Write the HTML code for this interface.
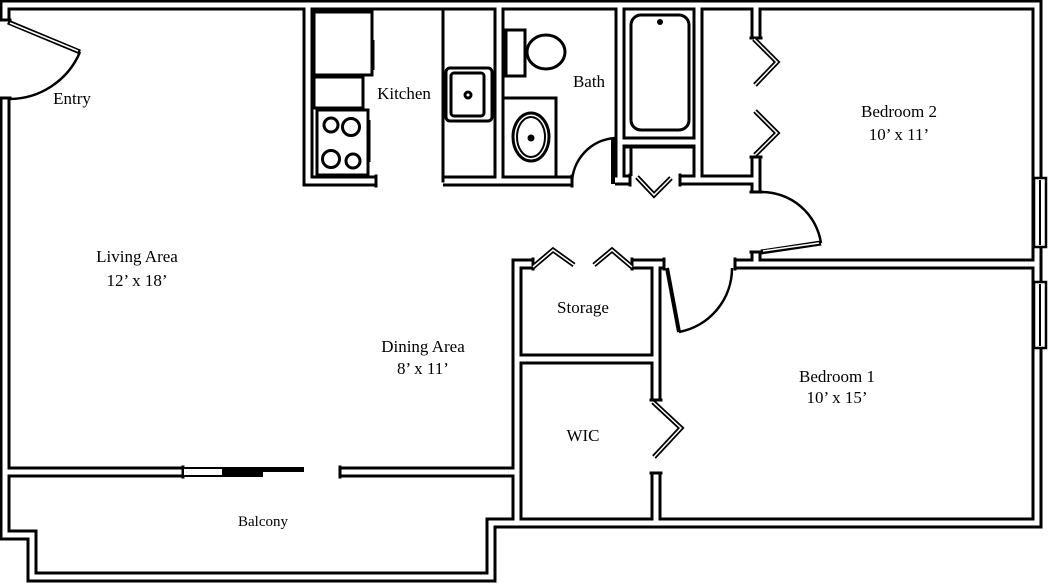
<!DOCTYPE html>
<html><head><meta charset="utf-8"><style>
html,body{margin:0;padding:0;background:#fff;}
svg{display:block;}
text{font-family:"Liberation Serif",serif;font-size:17px;fill:#000;text-anchor:middle;}
</style></head><body>
<svg width="1049" height="583" viewBox="0 0 1049 583" xmlns="http://www.w3.org/2000/svg">
<rect width="1049" height="583" fill="#fff"/>
<g fill="none" stroke-linejoin="miter" stroke-linecap="butt">
<g stroke="#000" stroke-width="11">
<path d="M5,20 V5 H1037 V523 H491 V577 H32 V535 H5 V98"/>
<path d="M5,472 H183 M340,472 H517 V523"/>
<path d="M517,472 V264 H533 M632,264 H664 M656,264 V400 M656,473 V523 M517,359 H656"/>
<path d="M735,264 H1037 M756,5 V38 M756,157 V192 M756,252 V264"/>
<path d="M680,180 H756 M615,180 H630 M698,5 V180 M620,142 H698 M620,5 V180"/>
<path d="M308,5 V181 H376 M499,5 V181 M443,181 H572"/>
</g>
<g stroke="#fff" stroke-width="5">
<path d="M5,20 V5 H1037 V523 H491 V577 H32 V535 H5 V98"/>
<path d="M5,472 H183 M340,472 H517 V523"/>
<path d="M517,472 V264 H533 M632,264 H664 M656,264 V400 M656,473 V523 M517,359 H656"/>
<path d="M735,264 H1037 M756,5 V38 M756,157 V192 M756,252 V264"/>
<path d="M680,180 H756 M615,180 H630 M698,5 V180 M620,142 H698 M620,5 V180"/>
<path d="M308,5 V181 H376 M499,5 V181 M443,181 H572"/>
</g>
<g stroke="#000" stroke-width="3" stroke-linecap="square">
<path d="M0,20 H10 M0,98 H10 M183,467 V477 M340,467 V477 M533,259 V269 M632,259 V269 M664,259 V269 M651,400 H661 M651,473 H661 M735,259 V269 M751,38 H761 M751,157 H761 M751,192 H761 M751,252 H761 M680,175 V185 M630,175 V185 M376,176 V186 M572,176 V186"/>
<path d="M443,10 V181"/>
</g>
<!-- slider -->
<rect x="183" y="468" width="40" height="8" fill="#fff" stroke="#000" stroke-width="2"/>
<rect x="222" y="467" width="82" height="5" fill="#000" stroke="none"/>
<rect x="222" y="471" width="41" height="6" fill="#000" stroke="none"/>
<!-- doors -->
<g stroke="#000" stroke-width="2.5">
<path d="M80,52 A77,77 0 0 1 8,99"/>
<path d="M615,138 A46,46 0 0 0 572,184"/>
<path d="M821,243 A60,60 0 0 0 761,192"/>
<path d="M679,332 A65,65 0 0 0 732,268"/>
</g>
<g stroke="#000" stroke-width="5"><path d="M8,22 L80,52"/><path d="M761,252 L821,243"/></g>
<g stroke="#fff" stroke-width="1.5"><path d="M10,23 L78,51"/><path d="M763,251 L819,243"/></g>
<path d="M613,138 V184" stroke="#000" stroke-width="4"/>
<path d="M667,268 L679,332" stroke="#000" stroke-width="4"/>
<!-- bifolds -->
<g stroke="#000" stroke-width="5">
<path d="M754,39 L777,62 L755,85 M755,111 L777,133 L755,155"/>
<path d="M637,177 L654,195 L671,178"/>
<path d="M533,267 L553,250 L574,265 M594,265 L612,250 L632,267"/>
<path d="M653,402 L681,428 L654,457"/>
</g>
<g stroke="#fff" stroke-width="1.5">
<path d="M754,39 L777,62 L755,85 M755,111 L777,133 L755,155"/>
<path d="M637,177 L654,195 L671,178"/>
<path d="M533,267 L553,250 L574,265 M594,265 L612,250 L632,267"/>
<path d="M653,402 L681,428 L654,457"/>
</g>
<!-- windows -->
<g stroke="#000" stroke-width="2.5" fill="#fff">
<rect x="1034" y="178" width="12" height="69"/>
<rect x="1034" y="282" width="12" height="66"/>
</g>
<g stroke="#000" stroke-width="2"><path d="M1040,180 V245 M1040,284 V346"/></g>
<!-- kitchen -->
<g stroke="#000" stroke-width="3">
<rect x="314" y="12" width="58" height="63"/>
<rect x="314" y="77" width="49" height="31"/>
<rect x="317" y="110" width="51" height="65"/>
<circle cx="331" cy="125" r="7"/><circle cx="351" cy="127" r="8.5"/>
<circle cx="331" cy="159" r="8.5"/><circle cx="353" cy="161" r="7"/>
<path d="M369,120 V162 M373,40 V70"/>
<rect x="446" y="68" width="46" height="53" rx="4"/>
<rect x="451" y="73" width="33" height="43" rx="3"/>
<circle cx="468" cy="95" r="3"/>
<rect x="506" y="30" width="19" height="46"/>
<ellipse cx="546" cy="52" rx="19" ry="17"/>
<rect x="503" y="98" width="53" height="79"/>
<ellipse cx="531" cy="137" rx="18" ry="24"/>
<ellipse cx="531" cy="137" rx="14" ry="20" stroke-width="2"/>
<rect x="631" y="15" width="58" height="115" rx="10"/>
</g>
<circle cx="531" cy="138" r="3.5" fill="#000"/>
<circle cx="660" cy="22" r="3" fill="#000"/>
<path d="M625,147 H694 V176 M631,147 V176" stroke="#000" stroke-width="3"/>
</g>
<text x="72" y="104">Entry</text>
<text x="404" y="99">Kitchen</text>
<text x="589" y="87">Bath</text>
<text x="899" y="117">Bedroom 2</text>
<text x="899" y="140">10’ x 11’</text>
<text x="137" y="262">Living Area</text>
<text x="137" y="286">12’ x 18’</text>
<text x="423" y="352">Dining Area</text>
<text x="423" y="374">8’ x 11’</text>
<text x="583" y="313">Storage</text>
<text x="583" y="441">WIC</text>
<text x="837" y="382">Bedroom 1</text>
<text x="837" y="403">10’ x 15’</text>
<text x="263" y="526" style="font-size:15px">Balcony</text>
</svg>
</body></html>
